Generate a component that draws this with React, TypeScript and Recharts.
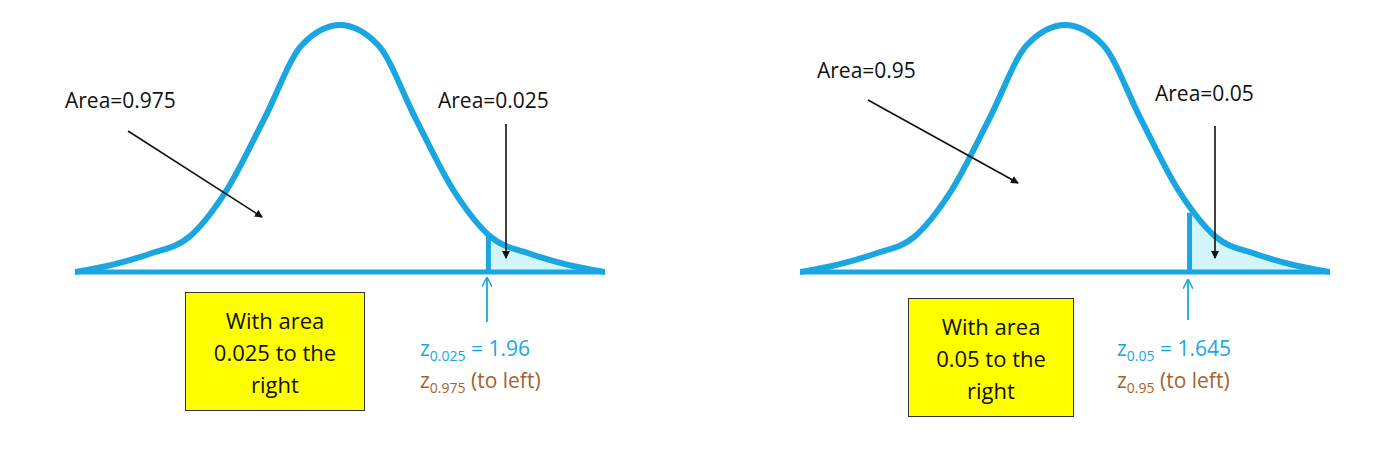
import { LineChart, Line, Area, XAxis, YAxis, ReferenceLine, ComposedChart } from "recharts";

// relative density (peak = 1)
const zPoints = [-3.5, -3, -2.5, -2, -1.5, -1, -0.5, 0, 0.5, 1, 1.5, 2, 2.5, 3, 3.5];
const heights = [0, 0.03, 0.075, 0.14, 0.33, 0.62, 0.92, 1, 0.92, 0.62, 0.33, 0.14, 0.075, 0.03, 0];

const leftCut = 1.96;
const leftCutHeight = 0.15;
const rightCut = 1.645;
const rightCutHeight = 0.24;

const BLUE = "#1aa7e1";
const BROWN = "#a5632c";
const FONT = "'Open Sans', Lato, sans-serif";

const curve = zPoints.map((z, i) => ({ z, h: heights[i] }));
const tail = (cut: number, hc: number) => [{ z: cut, h: hc }, ...curve.filter((d) => d.z > cut)];

function Bell({ left, height, cut, cutHeight }: { left: number; height: number; cut: number; cutHeight: number }) {
  return (
    <div style={{ position: "absolute", left, top: 0 }}>
      <ComposedChart width={540} height={height} margin={{ top: 25, right: 5, bottom: height - 25 - 247 + 0, left: 5 }}>
        <XAxis type="number" dataKey="z" domain={[-3.5, 3.5]} hide allowDataOverflow />
        <YAxis type="number" domain={[0, 1]} hide width={0} />
        <Area data={tail(cut, cutHeight)} dataKey="h" type="monotone" fill="#d3f6fb" fillOpacity={1} stroke="none" isAnimationActive={false} />
        <Line data={curve} dataKey="h" type="monotone" stroke={BLUE} strokeWidth={6} dot={false} isAnimationActive={false} />
        <ReferenceLine y={0} stroke={BLUE} strokeWidth={5} />
        <ReferenceLine segment={[{ x: cut, y: 0 }, { x: cut, y: cutHeight }]} stroke={BLUE} strokeWidth={5} />
      </ComposedChart>
    </div>
  );
}

const label: React.CSSProperties = { position: "absolute", fontFamily: FONT, fontSize: 21, color: "#111", whiteSpace: "nowrap" };
const box: React.CSSProperties = {
  position: "absolute", background: "#ffff00", border: "1px solid #333", fontFamily: FONT, fontSize: 22,
  textAlign: "center", lineHeight: "32px", display: "flex", alignItems: "center", justifyContent: "center", color: "#111",
};

export default function App() {
  return (
    <div style={{ position: "relative", width: 1400, height: 451, background: "#fff", margin: -8, overflow: "hidden" }}>
      <Bell left={70} height={279} cut={leftCut} cutHeight={leftCutHeight} />
      <Bell left={795} height={279} cut={rightCut} cutHeight={rightCutHeight} />
      <svg width={1400} height={451} style={{ position: "absolute", left: 0, top: 0 }}>
        <defs>
          <marker id="ab" markerWidth="8" markerHeight="8" refX="7" refY="4" orient="auto" markerUnits="userSpaceOnUse">
            <path d="M0,0 L8,4 L0,8 z" fill="#111" />
          </marker>
          <marker id="abl" markerWidth="10" markerHeight="10" refX="9" refY="5" orient="auto" markerUnits="userSpaceOnUse">
            <path d="M0,0 L10,5 L0,10" fill="none" stroke={BLUE} strokeWidth={1.5} />
          </marker>
        </defs>
        <line x1={128} y1={131} x2={262} y2={217} stroke="#111" strokeWidth={1.6} markerEnd="url(#ab)" />
        <line x1={506} y1={124} x2={506} y2={258} stroke="#111" strokeWidth={1.6} markerEnd="url(#ab)" />
        <line x1={868} y1={100} x2={1018} y2={183} stroke="#111" strokeWidth={1.6} markerEnd="url(#ab)" />
        <line x1={1215} y1={126} x2={1215} y2={258} stroke="#111" strokeWidth={1.6} markerEnd="url(#ab)" />
        <line x1={487} y1={322} x2={487} y2={278} stroke={BLUE} strokeWidth={1.8} markerEnd="url(#abl)" />
        <line x1={1188} y1={320} x2={1188} y2={280} stroke={BLUE} strokeWidth={1.8} markerEnd="url(#abl)" />
      </svg>
      <div style={{ ...label, left: 65, top: 86 }}>Area=0.975</div>
      <div style={{ ...label, left: 438, top: 86 }}>Area=0.025</div>
      <div style={{ ...label, left: 817, top: 56 }}>Area=0.95</div>
      <div style={{ ...label, left: 1155, top: 79 }}>Area=0.05</div>
      <div style={{ ...box, left: 185, top: 292, width: 178, height: 117 }}>With area<br />0.025 to the<br />right</div>
      <div style={{ ...box, left: 908, top: 298, width: 164, height: 117 }}>With area<br />0.05 to the<br />right</div>
      <div style={{ ...label, left: 420, top: 334, color: BLUE }}>z<sub style={{ fontSize: 14 }}>0.025</sub> = 1.96</div>
      <div style={{ ...label, left: 420, top: 366, color: BROWN }}>z<sub style={{ fontSize: 14 }}>0.975</sub> (to left)</div>
      <div style={{ ...label, left: 1117, top: 334, color: BLUE }}>z<sub style={{ fontSize: 14 }}>0.05</sub> = 1.645</div>
      <div style={{ ...label, left: 1117, top: 366, color: BROWN }}>z<sub style={{ fontSize: 14 }}>0.95</sub> (to left)</div>
    </div>
  );
}
